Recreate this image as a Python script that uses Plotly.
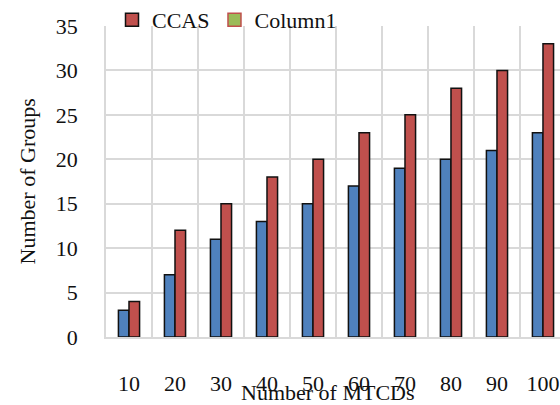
import plotly.graph_objects as go

# Data
mtcds = ["10", "20", "30", "40", "50", "60", "70", "80", "90", "100"]
ccas = [3, 7, 11, 13, 15, 17, 19, 20, 21, 23]
column1 = [4, 12, 15, 18, 20, 23, 25, 28, 30, 33]
y_ticks = [0, 5, 10, 15, 20, 25, 30, 35]

BLUE = "#4F81BD"
RED = "#C0504D"
GREEN = "#9BBB59"
GRID = "#D9D9D9"
FONT = "Liberation Serif"

fig = go.Figure()

fig.add_trace(go.Bar(x=mtcds, y=ccas, name="CCAS", marker=dict(color=BLUE, line=dict(color="#111111", width=1.5)),
                     showlegend=False))
fig.add_trace(go.Bar(x=mtcds, y=column1, name="Column1", marker=dict(color=RED, line=dict(color="#111111", width=1.5)),
                     showlegend=False))

# legend entries
fig.add_trace(go.Scatter(x=[None], y=[None], mode="markers", name="CCAS",
                         marker=dict(symbol="square", size=13, color=RED, line=dict(color="#111111", width=1.5))))
fig.add_trace(go.Scatter(x=[None], y=[None], mode="markers", name="Column1",
                         marker=dict(symbol="square", size=13, color=GREEN, line=dict(color=RED, width=1.5))))

fig.update_layout(
    width=560, height=405,
    margin=dict(l=106, r=0, t=26, b=68, autoexpand=False),
    paper_bgcolor="white", plot_bgcolor="white",
    font=dict(family=FONT, size=22, color="#111111"),
    barmode="group", bargap=0.54, bargroupgap=0,
    showlegend=True,
    legend=dict(orientation="h", xref="container", yref="container", x=(112 / 560), y=1 - 20 / 405,
                xanchor="left", yanchor="middle",
                bgcolor="rgba(0,0,0,0)", font=dict(size=22), itemwidth=30,
                tracegroupgap=0, traceorder="normal"),
    xaxis=dict(type="category", categoryorder="array", categoryarray=mtcds,
               range=[-0.5, 9.37], tickson="boundaries", showgrid=True, gridcolor=GRID, gridwidth=1.5,
               showline=True, linecolor=GRID, linewidth=1.5, ticks="", ticklabelstandoff=26,
               zeroline=False),
    yaxis=dict(range=[0, 35], tickvals=y_ticks, showgrid=True, gridcolor=GRID, gridwidth=1.5,
               showline=True, linecolor=GRID, linewidth=1.5, ticks="", ticklabelstandoff=22,
               zeroline=False),
    annotations=[
        dict(text="Number of MTCDs", xref="paper", yref="paper", x=0.49, y=-0.18,
             xanchor="center", yanchor="middle", showarrow=False, font=dict(size=22)),
        dict(text="Number of Groups", xref="paper", yref="paper", x=-0.172, y=0.5,
             xanchor="center", yanchor="middle", textangle=-90, showarrow=False, font=dict(size=22)),
    ],
)

fig.write_html("out.html")
